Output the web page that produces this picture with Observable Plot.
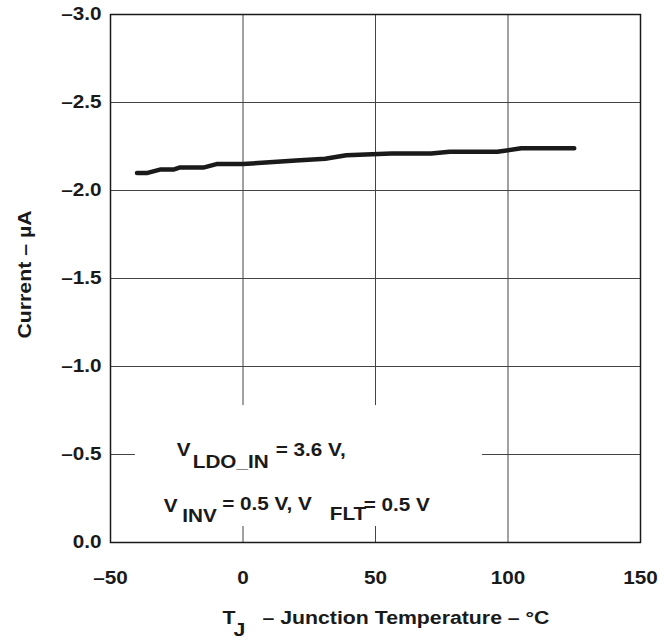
<!DOCTYPE html>
<html>
<head>
<meta charset="utf-8">
<script src="https://cdn.jsdelivr.net/npm/d3@7"></script>
<script src="https://cdn.jsdelivr.net/npm/@observablehq/plot@0.6"></script>
<style>
  html, body { margin: 0; padding: 0; background: #fff; }
  svg { font-family: "Liberation Sans", Arial, sans-serif; font-weight: bold; }
</style>
</head>
<body>
<div id="chart"></div>
<script>
// Junction temperature (°C)
const temps = [-40, -36, -31, -26, -24, -15, -10, 0, 10, 20, 31, 39, 56, 71, 78, 96, 105, 125];
// Current (µA)
const currents = [-2.10, -2.10, -2.12, -2.12, -2.13, -2.13, -2.15, -2.15, -2.16, -2.17, -2.18, -2.20, -2.21, -2.21, -2.22, -2.22, -2.24, -2.24];

const xTicks = [-50, 0, 50, 100, 150];
const yTicks = [0, -0.5, -1.0, -1.5, -2.0, -2.5, -3.0];
const xGrid = [0, 50, 100];
const yGrid = [-0.5, -1.0, -1.5, -2.0, -2.5];

const data = temps.map((t, i) => ({t, c: currents[i]}));

const ink = "#1a1a1a";
const tickFont = 18.5;
const annFont = 18.5;
const titleFont = 19;
const stretch = 1.12; // reference lettering is horizontally widened

const fmtX = d => d < 0 ? "\u2013" + Math.abs(d) : String(d);
const fmtY = d => d === 0 ? "0.0" : "\u2013" + Math.abs(d).toFixed(1);

// annotation box (data coordinates) hiding the grid behind the note
const noteBox = [{x1: -40.6, x2: 90.4, y1: -0.778, y2: -0.091}];
const noteAnchor = [{x: -25, y: -0.5}];

const txt = (text, dx, dy, size) => Plot.text(noteAnchor, {
  x: "x", y: "y", text: () => text, dx, dy,
  textAnchor: "start", lineAnchor: "bottom",
  fontSize: size, fontWeight: "bold", fill: ink
});

const titleX = (text, dx, dy) => Plot.text([0], {
  frameAnchor: "bottom", text: () => text, dx, dy,
  textAnchor: "start", lineAnchor: "bottom",
  fontSize: titleFont, fontWeight: "bold", fill: ink
});

const chart = Plot.plot({
  width: 671,
  height: 640,
  marginLeft: 110,
  marginRight: 31,
  marginTop: 14,
  marginBottom: 98,
  style: {fontFamily: "Liberation Sans, Arial, sans-serif", fontWeight: "bold", color: ink, background: "#fff"},
  x: {domain: [-50, 150]},
  y: {domain: [0, -3]},
  marks: [
    Plot.ruleX(xGrid, {stroke: "#444", strokeWidth: 1}),
    Plot.ruleY(yGrid, {stroke: "#444", strokeWidth: 1}),
    Plot.rect(noteBox, {x1: "x1", x2: "x2", y1: "y1", y2: "y2", fill: "#fff"}),
    Plot.line(data, {x: "t", y: "c", stroke: ink, strokeWidth: 4.5, strokeLinecap: "round", strokeLinejoin: "round"}),
    Plot.frame({stroke: ink, strokeWidth: 1.5}),
    Plot.axisX({ticks: xTicks, tickFormat: fmtX, tickSize: 0, tickPadding: 28, fontSize: tickFont, fontWeight: "bold", label: null, fill: ink}),
    Plot.axisY({ticks: yTicks, tickFormat: fmtY, tickSize: 0, tickPadding: 9, fontSize: tickFont, fontWeight: "bold", label: null, fill: ink}),
    // note text
    txt("V", 0, 1, annFont),
    txt("LDO_IN", 16, 13, annFont),
    txt("= 3.6 V,", 99, 1, annFont),
    txt("V", -13, 57, annFont),
    txt("INV", 5.5, 67, annFont),
    txt("= 0.5 V, V", 45.5, 55, annFont),
    txt("FLT", 153, 65, annFont),
    txt("= 0.5 V", 187, 56, annFont),
    // x title
    titleX("T", -153, 81),
    titleX("J", -142, 93),
    titleX("\u2013 Junction Temperature \u2013 \u00B0C", -113, 81),
    // y title
    Plot.text([0], {
      frameAnchor: "left", text: () => "Current \u2013 \u00B5A", rotate: -90,
      dx: -86, dy: -4, textAnchor: "middle", lineAnchor: "middle",
      fontSize: titleFont, fontWeight: "bold", fill: ink
    })
  ]
});

// widen every label horizontally (along its own reading direction) around its anchor
d3.select(chart).selectAll("text").each(function () {
  const t = this.getAttribute("transform") || "";
  this.setAttribute("transform", (t + ` scale(${stretch},1)`).trim());
});

document.getElementById("chart").appendChild(chart);
</script>
</body>
</html>
